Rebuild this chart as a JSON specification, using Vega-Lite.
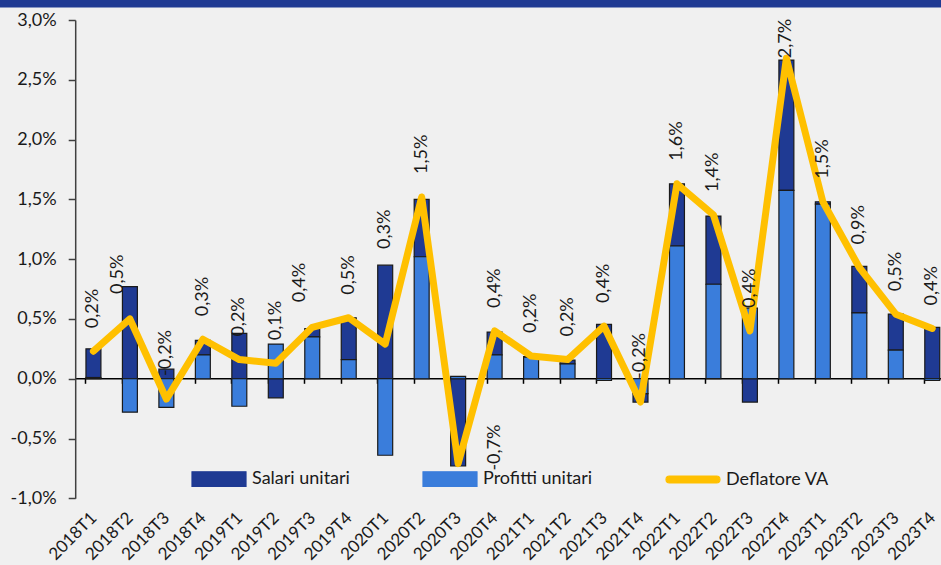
{
  "$schema": "https://vega.github.io/schema/vega-lite/v6.json",
  "width": 941,
  "height": 478.3,
  "autosize": "none",
  "padding": {"left": 0, "top": 20, "right": 0, "bottom": 66.7},
  "background": "#F0F0F0",
  "config": {
    "view": {"stroke": null},
    "font": "Lato",
    "locale": {"number": {"decimal": ",", "thousands": ".", "grouping": [3], "currency": ["€", ""], "minus": "-"}},
    "legend": {
      "title": null, "orient": "none", "legendX": 191, "legendY": 431, "direction": "horizontal", "columns": 3,
      "columnPadding": 70, "padding": 0, "labelFontSize": 18, "labelColor": "#1a1a1a", "labelOffset": 5,
      "symbolSize": 2916, "symbolStrokeWidth": 1.2
    }
  },
  "data": {"values": [
    {"q": "2018T1", "Salari unitari": 0.0024, "Profitti unitari": 0.0001, "defl": 0.0023},
    {"q": "2018T2", "Salari unitari": 0.0077, "Profitti unitari": -0.0028, "defl": 0.0050},
    {"q": "2018T3", "Salari unitari": 0.0008, "Profitti unitari": -0.0024, "defl": -0.0017},
    {"q": "2018T4", "Salari unitari": 0.0012, "Profitti unitari": 0.0020, "defl": 0.0033},
    {"q": "2019T1", "Salari unitari": 0.0038, "Profitti unitari": -0.0023, "defl": 0.0016},
    {"q": "2019T2", "Salari unitari": -0.0016, "Profitti unitari": 0.0029, "defl": 0.0013},
    {"q": "2019T3", "Salari unitari": 0.0007, "Profitti unitari": 0.0035, "defl": 0.0043},
    {"q": "2019T4", "Salari unitari": 0.0035, "Profitti unitari": 0.0016, "defl": 0.0051},
    {"q": "2020T1", "Salari unitari": 0.0095, "Profitti unitari": -0.0064, "defl": 0.0029},
    {"q": "2020T2", "Salari unitari": 0.0048, "Profitti unitari": 0.0102, "defl": 0.0152},
    {"q": "2020T3", "Salari unitari": -0.0073, "Profitti unitari": 0.0002, "defl": -0.0071},
    {"q": "2020T4", "Salari unitari": 0.0019, "Profitti unitari": 0.0020, "defl": 0.0040},
    {"q": "2021T1", "Salari unitari": 0.00005, "Profitti unitari": 0.0018, "defl": 0.0019},
    {"q": "2021T2", "Salari unitari": 0.0003, "Profitti unitari": 0.00125, "defl": 0.0016},
    {"q": "2021T3", "Salari unitari": 0.00455, "Profitti unitari": -0.00015, "defl": 0.0044},
    {"q": "2021T4", "Salari unitari": -0.0007, "Profitti unitari": -0.00125, "defl": -0.00195},
    {"q": "2022T1", "Salari unitari": 0.0052, "Profitti unitari": 0.0111, "defl": 0.0163},
    {"q": "2022T2", "Salari unitari": 0.0057, "Profitti unitari": 0.0079, "defl": 0.0137},
    {"q": "2022T3", "Salari unitari": -0.00195, "Profitti unitari": 0.0059, "defl": 0.0040},
    {"q": "2022T4", "Salari unitari": 0.0109, "Profitti unitari": 0.01575, "defl": 0.0268},
    {"q": "2023T1", "Salari unitari": 0.0002, "Profitti unitari": 0.0146, "defl": 0.0148},
    {"q": "2023T2", "Salari unitari": 0.0039, "Profitti unitari": 0.0055, "defl": 0.0093},
    {"q": "2023T3", "Salari unitari": 0.0030, "Profitti unitari": 0.0024, "defl": 0.0054},
    {"q": "2023T4", "Salari unitari": 0.0043, "Profitti unitari": -0.00015, "defl": 0.0042}
  ]},
  "layer": [
    {
      "data": {"values": [{"band": "top"}]},
      "mark": {"type": "rect", "color": "#1F3A93"},
      "encoding": {
        "y": {"datum": 0.0318, "type": "quantitative", "scale": {"domain": [-0.01, 0.03], "nice": false, "zero": false}},
        "y2": {"datum": 0.03105}
      }
    },
    {
      "transform": [{"fold": ["Salari unitari", "Profitti unitari"], "as": ["serie", "valore"]}],
      "mark": {"type": "bar", "stroke": "#1a1a1a", "strokeWidth": 1.2},
      "encoding": {
        "x": {
          "field": "q", "type": "ordinal", "sort": null,
          "scale": {"range": [75.2, 950.5], "paddingInner": 0.59, "paddingOuter": 0.295},
          "axis": {"orient": "bottom", "offset": -120, "labels": false, "title": null, "domain": true, "domainColor": "#000000", "domainWidth": 1.5, "ticks": true, "tickSize": 5, "tickColor": "#000000", "tickWidth": 1.5, "bandPosition": 0, "grid": false}
        },
        "y": {
          "field": "valore", "type": "quantitative", "stack": "zero",
          "scale": {"domain": [-0.01, 0.03], "nice": false, "zero": false},
          "axis": {"orient": "left", "offset": -75.2, "title": null, "format": ".1%", "values": [-0.01, -0.005, 0, 0.005, 0.01, 0.015, 0.02, 0.025, 0.03], "grid": false, "domainColor": "#404040", "domainWidth": 1.5, "tickColor": "#404040", "tickWidth": 1.5, "tickSize": 7, "labelPadding": 12, "labelFontSize": 18, "labelColor": "#1a1a1a"}
        },
        "color": {
          "field": "serie", "type": "nominal",
          "scale": {"domain": ["Salari unitari", "Profitti unitari", "Deflatore VA"], "range": ["#1F3A93", "#3A7DDB", "#FFC000"]},
          "legend": {
            "encode": {"symbols": {"update": {
              "shape": {"signal": "datum.value === 'Deflatore VA' ? 'M-0.87,-0.13H0.87A0.13,0.13,0,0,1,0.87,0.13H-0.87A0.13,0.13,0,0,1,-0.87,-0.13Z' : 'M-1,-0.27H1V0.27H-1Z'"},
              "fill": {"signal": "datum.value === 'Deflatore VA' ? '#FFC000' : (datum.value === 'Salari unitari' ? '#1F3A93' : '#3A7DDB')"},
              "stroke": {"signal": "datum.value === 'Deflatore VA' ? '#FFC000' : '#1a1a1a'"},
              "opacity": {"value": 1},
              "fillOpacity": {"value": 1}
            }}}
          }
        },
        "order": {"field": "serie", "sort": "ascending"}
      }
    },
    {
      "mark": {"type": "line", "strokeWidth": 7, "strokeJoin": "round", "strokeCap": "round"},
      "encoding": {
        "x": {
          "field": "q", "type": "ordinal", "sort": null,
          "axis": {"orient": "bottom", "title": null, "domain": false, "ticks": false, "labelAngle": -45, "labelFontSize": 17, "labelColor": "#1a1a1a", "labelPadding": 11, "labelOffset": -5, "grid": false}
        },
        "y": {"field": "defl", "type": "quantitative"},
        "color": {
          "datum": "Deflatore VA",
          "legend": {
            "encode": {"symbols": {"update": {
              "shape": {"signal": "datum.value === 'Deflatore VA' ? 'M-0.87,-0.13H0.87A0.13,0.13,0,0,1,0.87,0.13H-0.87A0.13,0.13,0,0,1,-0.87,-0.13Z' : 'M-1,-0.27H1V0.27H-1Z'"},
              "fill": {"signal": "datum.value === 'Deflatore VA' ? '#FFC000' : (datum.value === 'Salari unitari' ? '#1F3A93' : '#3A7DDB')"},
              "stroke": {"signal": "datum.value === 'Deflatore VA' ? '#FFC000' : '#1a1a1a'"},
              "opacity": {"value": 1},
              "fillOpacity": {"value": 1}
            }}}
          }
        }
      }
    },
    {
      "transform": [{"filter": "indexof(['2020T1','2020T3','2022T4','2018T2','2019T3'], datum.q) < 0"}],
      "mark": {"type": "text", "angle": 270, "align": "left", "baseline": "middle", "dx": 23, "fontSize": 18, "color": "#1a1a1a"},
      "encoding": {
        "x": {"field": "q", "type": "ordinal", "sort": null, "axis": null},
        "y": {"field": "defl", "type": "quantitative"},
        "text": {"field": "defl", "type": "quantitative", "format": ".1%"}
      }
    },
    {
      "transform": [{"filter": "datum.q === '2020T1'"}],
      "mark": {"type": "text", "angle": 270, "align": "left", "baseline": "middle", "dx": 95, "fontSize": 18, "color": "#1a1a1a"},
      "encoding": {
        "x": {"field": "q", "type": "ordinal", "sort": null, "axis": null},
        "y": {"field": "defl", "type": "quantitative"},
        "text": {"field": "defl", "type": "quantitative", "format": ".1%"}
      }
    },
    {
      "transform": [{"filter": "datum.q === '2020T3'"}],
      "mark": {"type": "text", "angle": 270, "align": "left", "baseline": "middle", "dx": -7, "dy": 37, "fontSize": 18, "color": "#1a1a1a"},
      "encoding": {
        "x": {"field": "q", "type": "ordinal", "sort": null, "axis": null},
        "y": {"field": "defl", "type": "quantitative"},
        "text": {"field": "defl", "type": "quantitative", "format": ".1%"}
      }
    },
    {
      "transform": [{"filter": "datum.q === '2022T4'"}],
      "mark": {"type": "text", "angle": 270, "align": "left", "baseline": "middle", "dx": 0, "fontSize": 18, "color": "#1a1a1a"},
      "encoding": {
        "x": {"field": "q", "type": "ordinal", "sort": null, "axis": null},
        "y": {"field": "defl", "type": "quantitative"},
        "text": {"field": "defl", "type": "quantitative", "format": ".1%"}
      }
    },
    {
      "transform": [{"filter": "datum.q === '2018T2' || datum.q === '2019T3'"}],
      "mark": {"type": "text", "angle": 270, "align": "left", "baseline": "middle", "dx": 25, "dy": -12, "fontSize": 18, "color": "#1a1a1a"},
      "encoding": {
        "x": {"field": "q", "type": "ordinal", "sort": null, "axis": null},
        "y": {"field": "defl", "type": "quantitative"},
        "text": {"field": "defl", "type": "quantitative", "format": ".1%"}
      }
    }
  ],
  "resolve": {"axis": {"x": "independent"}}
}
